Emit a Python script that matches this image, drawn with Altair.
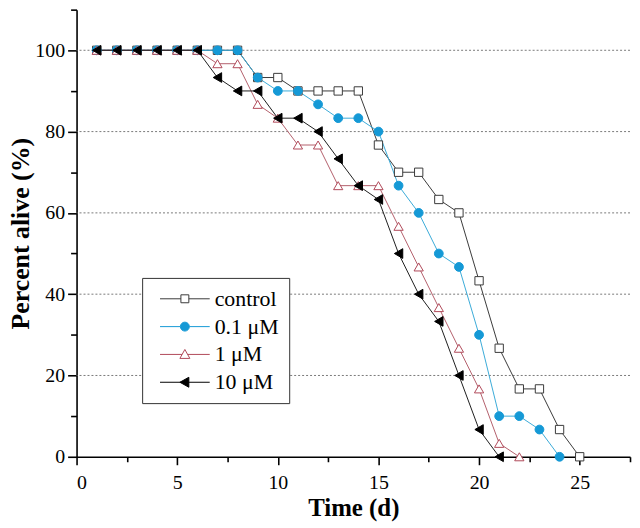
import altair as alt
import pandas as pd

# ---- data ----
series_names = ["control", "0.1 μM", "1 μM", "10 μM"]

days_control = [1, 2, 3, 4, 5, 6, 7, 8, 9, 10, 11, 12, 13, 14, 15, 16, 17, 18, 19, 20, 21, 22, 23, 24, 25]
pct_control = [100, 100, 100, 100, 100, 100, 100, 100, 93.3, 93.3, 90, 90, 90, 90, 76.7, 70, 70, 63.3, 60, 43.3, 26.7, 16.7, 16.7, 6.7, 0]

days_01 = [1, 2, 3, 4, 5, 6, 7, 8, 9, 10, 11, 12, 13, 14, 15, 16, 17, 18, 19, 20, 21, 22, 23, 24]
pct_01 = [100, 100, 100, 100, 100, 100, 100, 100, 93.3, 90, 90, 86.7, 83.3, 83.3, 80, 66.7, 60, 50, 46.7, 30, 10, 10, 6.7, 0]

days_1 = [1, 2, 3, 4, 5, 6, 7, 8, 9, 10, 11, 12, 13, 14, 15, 16, 17, 18, 19, 20, 21, 22]
pct_1 = [100, 100, 100, 100, 100, 100, 96.7, 96.7, 86.7, 83.3, 76.7, 76.7, 66.7, 66.7, 66.7, 56.7, 46.7, 36.7, 26.7, 16.7, 3.3, 0]

days_10 = [1, 2, 3, 4, 5, 6, 7, 8, 9, 10, 11, 12, 13, 14, 15, 16, 17, 18, 19, 20, 21]
pct_10 = [100, 100, 100, 100, 100, 100, 93.3, 90, 90, 83.3, 83.3, 80, 73.3, 66.7, 63.3, 50, 40, 33.3, 20, 6.7, 0]

x_ticks = [0, 2.5, 5, 7.5, 10, 12.5, 15, 17.5, 20, 22.5, 25, 27.5]
y_ticks = [0, 10, 20, 30, 40, 50, 60, 70, 80, 90, 100, 110]
grid_values = [20, 40, 60, 80, 100]

# ---- styling ----
line_colors = ["#3a3a3a", "#3aaad8", "#b3606c", "#1e1e1e"]
marker_stroke = ["#3a3a3a", "#1599d6", "#b04a5a", "#000000"]
marker_fill = ["#ffffff", "#1599d6", "#ffffff", "#000000"]
marker_shapes = ["square", "circle", "triangle-up", "triangle-left"]
marker_sizes = [70, 95, 100, 100]
legend_paths = [
    "M-5,0H-0.8M0.8,0H5M-0.8,-0.8H0.8V0.8H-0.8Z",
    "M-5,0H-0.9M0.9,0H5M-0.9,0A0.9,0.9,0,1,0,0.9,0A0.9,0.9,0,1,0,-0.9,0Z",
    "M-5,0H-0.56M0.56,0H5M0,-1L1,0.8L-1,0.8Z",
    "M-5,0H5M-1,0L0.8,-1L0.8,1Z",
]

rows = []
for name, ds, vs in zip(series_names,
                        [days_control, days_01, days_1, days_10],
                        [pct_control, pct_01, pct_1, pct_10]):
    for d, v in zip(ds, vs):
        rows.append({"day": d, "pct": v, "series": name})
df = pd.DataFrame(rows)
grid_df = pd.DataFrame({"g": grid_values})

FONT = "Liberation Serif"

xscale = alt.Scale(domain=[0, 27.5], nice=False, zero=False)
yscale = alt.Scale(domain=[0, 110], nice=False, zero=False)

xaxis = alt.Axis(
    values=x_ticks,
    labelExpr="datum.value % 5 === 0 ? datum.label : ''",
    tickSize={"condition": {"test": "datum.value % 5 === 0", "value": 8}, "value": 5},
    title="Time (d)",
    grid=False,
)
yaxis = alt.Axis(
    values=y_ticks,
    labelExpr="(datum.value % 20 === 0 && datum.value <= 100) ? datum.label : ''",
    tickSize={"condition": {"test": "datum.value % 20 === 0", "value": 9}, "value": 6},
    title="Percent alive (%)",
    titleX=-56,
    titleBaseline="middle",
    grid=False,
)

def xenc(field):
    return alt.X(field, type="quantitative", scale=xscale, axis=xaxis)

def yenc(field):
    return alt.Y(field, type="quantitative", scale=yscale, axis=yaxis)

grid = alt.Chart(grid_df).mark_rule(strokeDash=[2, 2], color="#7a7a7a", strokeWidth=1).encode(
    y=yenc("g")
)

lines = alt.Chart(df).mark_line(strokeWidth=1).encode(
    x=xenc("day"),
    y=yenc("pct"),
    stroke=alt.Stroke("series:N", scale=alt.Scale(domain=series_names, range=line_colors), legend=None),
    detail="series:N",
)

points = alt.Chart(df).mark_point(opacity=1, strokeWidth=1).encode(
    x=xenc("day"),
    y=yenc("pct"),
    shape=alt.Shape("series:N", scale=alt.Scale(domain=series_names, range=marker_shapes), legend=None),
    fill=alt.Fill("series:N", scale=alt.Scale(domain=series_names, range=marker_fill), legend=None),
    stroke=alt.Stroke("series:N", scale=alt.Scale(domain=series_names, range=marker_stroke), legend=None),
    size=alt.Size("series:N", scale=alt.Scale(domain=series_names, range=marker_sizes), legend=None),
)

leg = alt.Legend(title=None, orient="none", legendX=66, legendY=270)
legend_layer = alt.Chart(df).transform_filter("false").mark_point(opacity=1, size=100, strokeWidth=1).encode(
    shape=alt.Shape("series:N", scale=alt.Scale(domain=series_names, range=legend_paths), legend=leg),
    fill=alt.Fill("series:N", scale=alt.Scale(domain=series_names, range=marker_fill), legend=leg),
    stroke=alt.Stroke("series:N", scale=alt.Scale(domain=series_names, range=marker_stroke), legend=leg),
)

chart = alt.layer(grid, lines, points, legend_layer).resolve_scale(
    shape="independent", fill="independent", stroke="independent", size="independent"
).properties(
    width=557,
    height=450,
    padding={"left": 69, "top": 0, "right": 2, "bottom": 66},
    autosize=alt.AutoSizeParams(type="none"),
).configure_view(
    stroke=None
).configure_axis(
    domainColor="#000000",
    domainWidth=1.6,
    tickColor="#000000",
    tickWidth=1.6,
    labelFont=FONT,
    labelFontSize=20,
    labelColor="#000000",
    labelPadding=3,
    titleFont=FONT,
    titleFontSize=25,
    titleFontWeight="bold",
    titleColor="#000000",
).configure_axisX(
    labelPadding=8,
    titlePadding=3,
).configure_axisY(
    titleFontSize=26,
).configure_legend(
    labelFont=FONT,
    labelFontSize=22,
    labelColor="#000000",
    strokeColor="#333333",
    fillColor="#ffffff",
    padding=10,
    rowPadding=6,
    symbolSize=100,
    symbolStrokeWidth=1,
    symbolOffset=22,
    labelOffset=19,
    cornerRadius=0,
)

chart.save("out.html", embed_options={"renderer": "svg", "actions": False})
